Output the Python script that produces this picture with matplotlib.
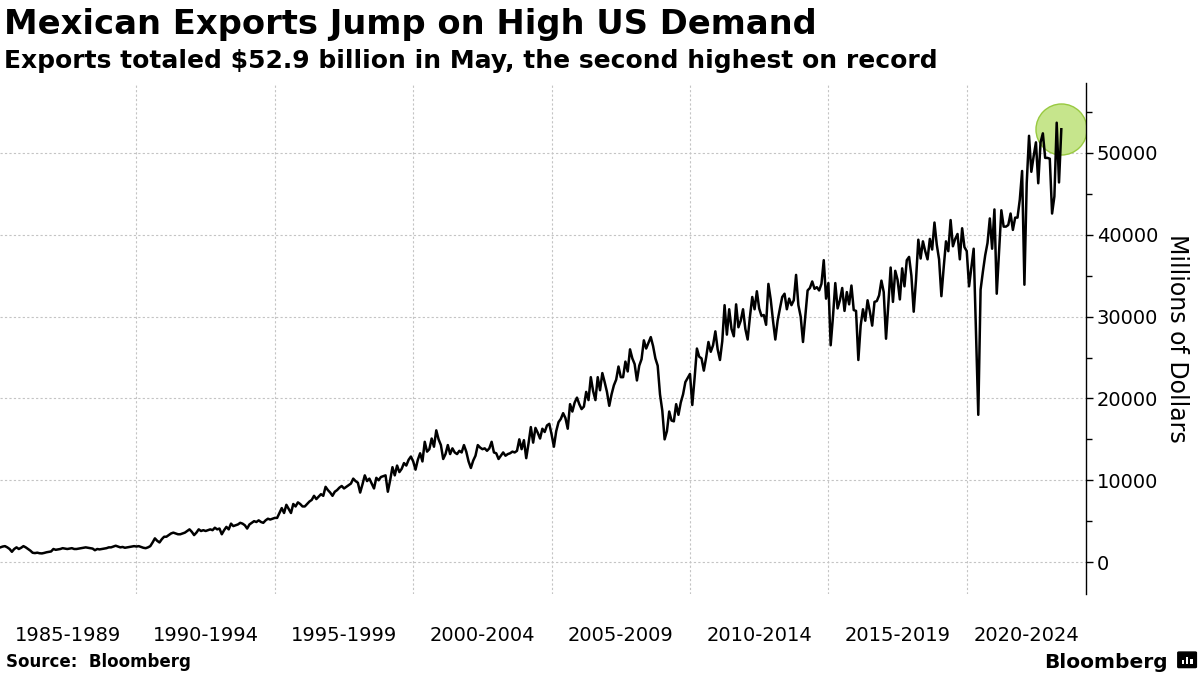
import numpy as np
import matplotlib.pyplot as plt
from matplotlib.patches import FancyBboxPatch, Rectangle

# Mexican monthly exports, millions of dollars, Jan 1985 .. May 2023
start_year = 1985
exports = [
    1800, 1900, 1950, 1800, 1600, 1260, 1600, 1800, 1600, 1750, 1950, 1800,  # 1985
    1600, 1400, 1140, 1100, 1150, 1080, 1060, 1120, 1200, 1250, 1300, 1600,  # 1986
    1500, 1550, 1600, 1700, 1650, 1600, 1650, 1700, 1600, 1600, 1650, 1700,  # 1987
    1750, 1800, 1750, 1700, 1650, 1450, 1600, 1550, 1600, 1650, 1700, 1800,  # 1988
    1800, 1900, 2000, 1900, 1800, 1850, 1750, 1800, 1850, 1900, 1950, 1900,  # 1989
    1950, 1850, 1750, 1700, 1800, 1950, 2400, 2900, 2600, 2400, 2800, 3100,  # 1990
    3100, 3300, 3500, 3600, 3500, 3400, 3400, 3500, 3600, 3800, 4000, 3700,  # 1991
    3300, 3600, 4000, 3800, 3900, 3800, 3900, 4000, 3900, 4200, 4000, 4100,  # 1992
    3400, 3900, 4300, 4000, 4700, 4400, 4500, 4600, 4800, 4700, 4500, 4100,  # 1993
    4600, 4800, 5000, 4900, 5100, 4900, 4800, 5100, 5300, 5200, 5300, 5400,  # 1994
    5400, 6000, 6600, 6000, 7000, 6500, 6000, 7100, 6800, 7300, 7100, 6800,  # 1995
    6800, 7100, 7400, 7600, 8100, 7700, 8000, 8300, 8100, 9200, 8800, 8500,  # 1996
    8100, 8600, 8800, 9100, 9300, 9000, 9200, 9400, 9600, 10200, 9900, 9700,  # 1997
    8500, 9500, 10600, 9900, 10200, 9600, 9000, 10300, 10000, 10400, 10500, 10600,  # 1998
    8600, 10000, 11600, 10600, 11800, 11000, 11400, 12100, 11800, 12500, 12900, 12300,  # 1999
    11300, 12500, 13300, 12300, 14700, 13500, 13800, 15100, 14100, 16100, 15000, 14300,  # 2000
    12600, 13200, 14300, 13200, 13900, 13400, 13200, 13600, 13400, 14300, 13500, 12300,  # 2001
    11500, 12400, 13000, 14300, 14000, 13800, 13900, 13600, 13900, 14700, 13400, 13300,  # 2002
    12600, 13000, 13400, 13000, 13200, 13300, 13500, 13400, 13600, 15000, 13800, 14900,  # 2003
    12700, 14500, 16500, 14600, 16400, 15800, 15100, 16300, 15900, 16700, 16900, 15600,  # 2004
    14100, 16000, 17100, 17500, 18200, 17600, 16300, 19300, 18400, 19500, 20100, 19300,  # 2005
    18700, 19000, 20800, 19800, 22600, 20900, 19800, 22600, 21000, 23100, 22000, 20800,  # 2006
    19100, 20500, 21600, 22300, 23900, 22600, 22600, 24500, 23300, 26000, 24900, 24200,  # 2007
    22200, 24000, 24800, 27100, 26100, 26800, 27500, 26400, 24900, 24000, 20500, 18500,  # 2008
    15000, 16000, 18400, 17300, 17200, 19300, 18000, 19500, 20500, 22000, 22500, 23000,  # 2009
    19200, 22500, 26100, 25100, 24900, 23400, 25000, 26900, 25700, 26500, 28200, 26000,  # 2010
    24700, 27000, 31400, 27800, 30900, 28500, 27600, 31500, 28700, 29500, 30900, 28500,  # 2011
    27200, 30000, 32400, 30900, 33100, 31000, 30100, 30200, 29000, 34000, 32100, 29500,  # 2012
    27200, 29500, 31000, 32400, 32800, 30900, 32200, 31400, 32000, 35100, 31400, 30000,  # 2013
    26900, 30000, 33200, 33500, 34300, 33400, 33600, 33200, 34000, 36900, 32200, 34100,  # 2014
    26500, 30000, 34100, 31000, 32000, 33500, 30700, 33000, 31500, 33800, 30800, 30700,  # 2015
    24700, 28900, 30900, 29500, 32000, 30600, 28900, 31800, 31900, 32600, 34400, 33000,  # 2016
    27300, 31500, 36000, 31800, 35600, 34500, 32100, 35900, 33700, 36900, 37300, 35000,  # 2017
    30600, 34500, 39400, 37100, 39200, 38000, 37000, 39500, 38200, 41500, 38800, 37000,  # 2018
    32500, 36000, 39200, 38000, 41800, 38600, 39500, 40100, 37000, 40800, 38500, 38000,  # 2019
    33700, 36000, 38300, 28200, 18000, 33300, 35500, 37500, 39000, 42000, 38300, 43100,  # 2020
    32800, 38000, 43000, 41000, 41000, 41200, 42600, 40600, 42100, 42100, 44300, 47800,  # 2021
    33900, 46300, 52100, 47700, 49600, 51300, 46300, 51300, 52400, 49400, 49400, 49300,  # 2022
    42600, 44700, 53700, 46400, 52900,                                                   # 2023
]
periods = ['1985-1989', '1990-1994', '1995-1999', '2000-2004',
           '2005-2009', '2010-2014', '2015-2019', '2020-2024']
period_starts = [1985, 1990, 1995, 2000, 2005, 2010, 2015, 2020]
y_ticks = [0, 10000, 20000, 30000, 40000, 50000]

t = start_year + (np.arange(len(exports)) + 1) / 12.0
x_min, x_max = 1985.07, 2024.3

fig = plt.figure(figsize=(12, 6.75), dpi=100)
ax = fig.add_axes([0, 0.12, 0.9048, 0.757])

ax.plot(t, exports, color='black', lw=1.8, zorder=3)
# highlight for the latest month
ax.scatter(t[-1], exports[-1], s=1350, facecolor='#c6e58c', edgecolor='#98c940',
           lw=1, zorder=2)

ax.set_xlim(x_min, x_max)
ax.set_ylim(-3900, 58550)

ax.set_xticks(period_starts[1:])
ax.set_xticklabels([])
centers = [(max(s, x_min) + min(s + 5, x_max)) / 2 for s in period_starts]
ax.set_xticks(centers, minor=True)
ax.set_xticklabels(periods, minor=True, fontsize=14)
ax.tick_params(axis='x', which='both', length=0)
ax.tick_params(axis='x', which='minor', pad=23)

ax.yaxis.tick_right()
ax.set_yticks(y_ticks)
ax.set_yticklabels([str(v) for v in y_ticks], fontsize=14)
ax.set_yticks(np.arange(5000, 58000, 10000), minor=True)
ax.tick_params(axis='y', which='major', direction='out', length=5, width=1, pad=3)
ax.tick_params(axis='y', which='minor', direction='out', length=4, width=1)
ax.yaxis.set_label_position('right')
ax.set_ylabel('Millions of Dollars', fontsize=17, rotation=270, labelpad=22)

ax.grid(True, which='major', linestyle=(0, (2, 2)), color='#c4c4c4', lw=0.8)
for side in ['left', 'top', 'bottom']:
    ax.spines[side].set_visible(False)
ax.spines['right'].set_linewidth(1)

fig.text(0.003, 0.988, 'Mexican Exports Jump on High US Demand', fontsize=24.3,
         fontweight='bold', va='top', ha='left')
fig.text(0.003, 0.928, 'Exports totaled $52.9 billion in May, the second highest on record',
         fontsize=18, fontweight='bold', va='top', ha='left')
fig.text(0.005, 0.019, 'Source:  Bloomberg', fontsize=12, fontweight='bold',
         va='center', ha='left')
fig.text(0.973, 0.019, 'Bloomberg', fontsize=14.5, fontweight='bold',
         va='center', ha='right')

# small logo mark
fig.patches.append(FancyBboxPatch((0.9825, 0.012), 0.0135, 0.021, boxstyle='round,pad=0.001',
                                  transform=fig.transFigure, facecolor='black',
                                  edgecolor='black'))
for i, h in enumerate([0.006, 0.011, 0.008]):
    fig.patches.append(Rectangle((0.9850 + i * 0.0035, 0.016), 0.0018, h,
                                 transform=fig.transFigure, facecolor='white'))

plt.savefig('out.png', dpi=100)
